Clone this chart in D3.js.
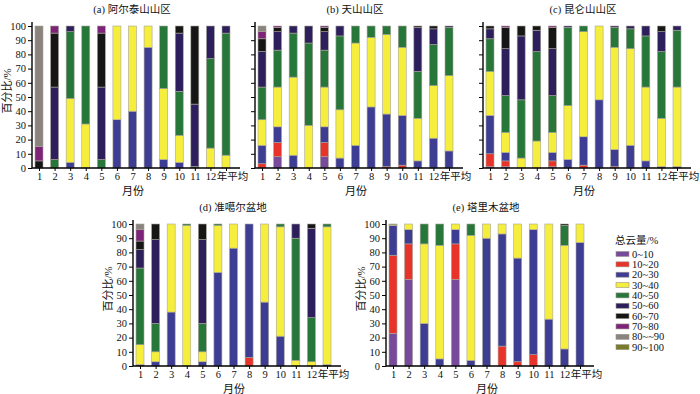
<!DOCTYPE html>
<html><head><meta charset="utf-8">
<script src="https://cdn.jsdelivr.net/npm/d3@7"></script>
<style>
body{margin:0;background:#fff;}
svg text{font-family:"Liberation Serif","Times New Roman","Noto Sans CJK SC",serif;fill:#111;}
</style></head>
<body><svg id="chart" width="700" height="394"></svg>
<script>
// ---- Data ----
const months = ["1","2","3","4","5","6","7","8","9","10","11","12","年平均"];
const bins = ["0~10","10~20","20~30","30~40","40~50","50~60","60~70","70~80","80~~90","90~100"];
const binColors = ["#774a9b","#e8332a","#3e3d94","#f6ee3c","#28773a","#2d1f5c","#161616","#7d2378","#8a837e","#7a7b2a"];
const yTicks = [0,10,20,30,40,50,60,70,80,90,100];

// each row: share (%) of each cloud-amount bin, month 1..12 and annual mean
const altaiData = [
  [0,0,0,0,0,0,5,10,85,0],
  [0,0,0,0,6,51,38,5,0,0],
  [0,0,4,45,47,4,0,0,0,0],
  [0,0,0,31,69,0,0,0,0,0],
  [0,0,0,0,6,51,38,5,0,0],
  [0,0,34,66,0,0,0,0,0,0],
  [0,0,40,60,0,0,0,0,0,0],
  [0,0,85,15,0,0,0,0,0,0],
  [0,0,6,50,44,0,0,0,0,0],
  [0,0,4,19,31,41,5,0,0,0],
  [0,0,0,0,1,44,55,0,0,0],
  [0,0,0,14,63,23,0,0,0,0],
  [0,0,0,9,86,5,0,0,0,0]
];
const tianshanData = [
  [0,3,13,18,23,25,9,5,4,0],
  [8,10,11,28,26,13,3,1,0,0],
  [0,0,9,55,31,5,0,0,0,0],
  [0,0,0,30,58,12,0,0,0,0],
  [8,10,11,28,26,13,3,1,0,0],
  [0,0,7,34,52,7,0,0,0,0],
  [0,0,16,72,12,0,0,0,0,0],
  [0,0,43,49,8,0,0,0,0,0],
  [0,1,37,56,6,0,0,0,0,0],
  [0,2,35,48,15,0,0,0,0,0],
  [0,0,5,30,33,31,1,0,0,0],
  [0,0,21,37,29,11,2,0,0,0],
  [0,0,12,53,34,1,0,0,0,0]
];
const kunlunData = [
  [1,9,27,31,23,7,2,0,0,0],
  [1,4,6,14,26,33,15,1,0,0],
  [0,0,0,7,41,45,7,0,0,0],
  [0,0,0,19,63,15,3,0,0,0],
  [1,4,6,14,26,33,15,1,0,0],
  [0,0,6,38,55,1,0,0,0,0],
  [0,2,20,74,4,0,0,0,0,0],
  [0,0,48,52,0,0,0,0,0,0],
  [0,1,12,72,14,1,0,0,0,0],
  [0,0,16,68,14,2,0,0,0,0],
  [0,0,5,52,36,7,0,0,0,0],
  [0,0,1,34,47,14,4,0,0,0],
  [0,0,1,56,40,3,0,0,0,0]
];
const junggarData = [
  [0,0,1,14,54,13,6,8,4,0],
  [0,0,3,7,20,59,11,0,0,0],
  [0,0,38,62,0,0,0,0,0,0],
  [0,0,0,99,1,0,0,0,0,0],
  [0,0,3,7,20,59,11,0,0,0],
  [0,0,66,33,1,0,0,0,0,0],
  [0,0,83,17,0,0,0,0,0,0],
  [0,6,94,0,0,0,0,0,0,0],
  [0,0,45,55,0,0,0,0,0,0],
  [0,0,21,77,2,0,0,0,0,0],
  [0,0,0,4,86,10,0,0,0,0],
  [0,0,0,3,31,63,3,0,0,0],
  [0,0,1,97,2,0,0,0,0,0]
];
const tarimData = [
  [23,55,21,0.6,0,0,0,0,0,0.4],
  [61,25,10,4,0,0,0,0,0,0],
  [0,0,30,56,14,0,0,0,0,0],
  [0,0,5,80,15,0,0,0,0,0],
  [61,25,10,4,0,0,0,0,0,0],
  [0,0,4,88,8,0,0,0,0,0],
  [0,0,90,10,0,0,0,0,0,0],
  [0,14,79,7,0,0,0,0,0,0],
  [0,3,73,24,0,0,0,0,0,0],
  [0,8,88,4,0,0,0,0,0,0],
  [0,0,33,67,0,0,0,0,0,0],
  [0,0,12,73,14,0,1,0,0,0],
  [0,0,87,13,0,0,0,0,0,0]
];

const panels = [
  {title:"(a) 阿尔泰山山区", data:altaiData,   x0:32,  top:26,  bottom:168, labels:true},
  {title:"(b) 天山山区",     data:tianshanData,x0:255, top:26,  bottom:168, labels:false},
  {title:"(c) 昆仑山山区",   data:kunlunData,  x0:483, top:26,  bottom:168, labels:false},
  {title:"(d) 准噶尔盆地",   data:junggarData, x0:133, top:224, bottom:366, labels:true},
  {title:"(e) 塔里木盆地",   data:tarimData,   x0:386, top:224, bottom:366, labels:true}
];

const FONT = '"Liberation Serif","Times New Roman","Noto Sans CJK SC",serif';
const svg = d3.select("#chart");
const stack = d3.stack().keys(d3.range(bins.length));

panels.forEach(p => {
  const g = svg.append("g");
  const x = d3.scalePoint().domain(months).range([p.x0 + 7, p.x0 + 194]);
  const y = d3.scaleLinear().domain([0,100]).range([p.bottom, p.top]);
  const barW = 8;
  const rows = p.data.map((r,i) => { const o = {m: months[i]}; r.forEach((v,k)=>o[k]=v); return o; });
  const series = stack(rows);

  series.forEach((s,k) => {
    g.append("g").selectAll("rect").data(s).join("rect")
      .attr("x", d => x(d.data.m) - barW/2)
      .attr("width", barW)
      .attr("y", d => y(d[1]))
      .attr("height", d => Math.max(0, y(d[0]) - y(d[1])))
      .attr("fill", binColors[k])
      .attr("stroke", d => (d[1]-d[0])>0 ? "#a9a59a" : "none")
      .attr("stroke-width", 0.6);
  });

  // y axis
  const ya = d3.axisLeft(y).tickValues(yTicks).tickSize(4).tickPadding(2);
  if (!p.labels) ya.tickFormat("");
  const yg = g.append("g").attr("transform", `translate(${p.x0},0)`).call(ya)
    .attr("font-family", FONT).attr("font-size", 10.5);
  yg.select(".domain").attr("stroke-width", 1.4).attr("d", `M-0,${y(100)-4}V${y(0)}`);
  yg.selectAll("text").style("font-family", FONT).style("font-size","10.5px");

  // x axis
  const xa = d3.axisBottom(x).tickSize(3).tickPadding(2);
  const xg = g.append("g").attr("transform", `translate(0,${p.bottom})`).call(xa)
    .attr("font-family", FONT).attr("font-size", 10.5);
  xg.select(".domain").attr("stroke-width", 1.4).attr("d", `M${p.x0},0H${p.x0+208}`);
  xg.selectAll("text").style("font-family", FONT).style("font-size","10.5px")
    .attr("dx", d => d === "年平均" ? 6 : 0);

  g.append("text").attr("x", p.x0 + 100).attr("y", p.top - 13)
    .attr("text-anchor","middle").style("font-size","10.5px").text(p.title);
  g.append("text").attr("x", p.x0 + 101).attr("y", p.bottom + 27)
    .attr("text-anchor","middle").style("font-size","11px").text("月份");
  if (p.labels) {
    g.append("text").attr("transform", `translate(${p.x0 - 21},${(p.top+p.bottom)/2 - 6}) rotate(-90)`)
      .attr("text-anchor","middle").style("font-size","11px").text("百分比/%");
  }
});

// legend
const lg = svg.append("g").attr("transform","translate(615,0)");
lg.append("text").attr("x",0).attr("y",244).style("font-size","10.5px").text("总云量/%");
bins.forEach((b,i) => {
  const cy = 254 + i*10.35;
  lg.append("rect").attr("x",1).attr("y",cy-2.5).attr("width",13).attr("height",5)
    .attr("fill",binColors[i]).attr("stroke","#9a968c").attr("stroke-width",0.6);
  lg.append("text").attr("x",17).attr("y",cy+3.5).style("font-size","10.5px").text(b);
});
</script></body></html>
